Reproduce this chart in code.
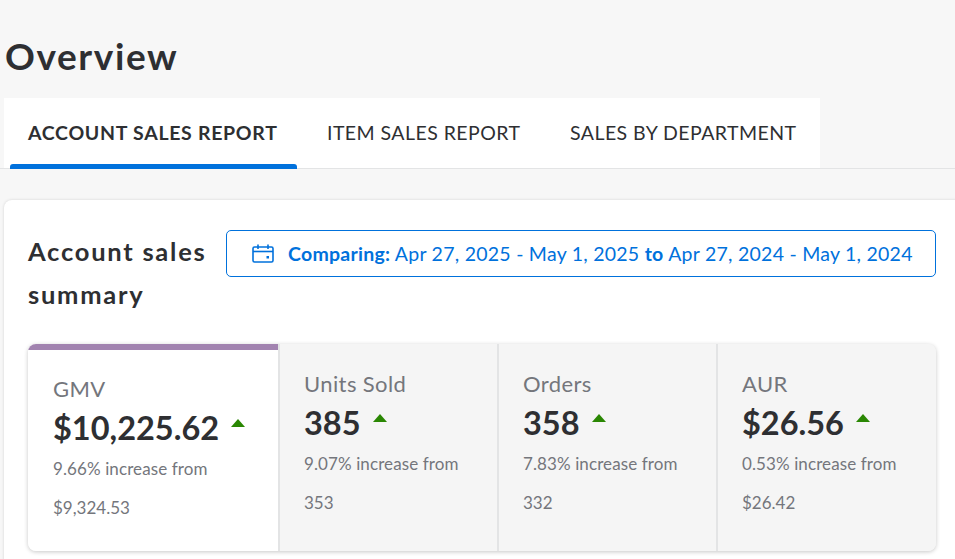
<!DOCTYPE html>
<html>
<head>
<meta charset="utf-8">
<script src="https://cdn.jsdelivr.net/npm/chart.js@4.4.1/dist/chart.umd.min.js"></script>
<style>
  html, body { margin: 0; padding: 0; }
  body {
    width: 955px; height: 559px; overflow: hidden;
    background: #f7f7f7; font-family: Lato, "Open Sans", sans-serif; color: #2e2f32;
    position: relative;
  }
  h1 { position: absolute; left: 5px; top: 33px; margin: 0; font-size: 37px; font-weight: 700; letter-spacing: 1.6px; }
  .tabs { position: absolute; left: 4px; top: 98px; width: 816px; height: 70px; background: #fff; }
  .tabline { position: absolute; left: 0; top: 168px; width: 955px; height: 1px; background: #e3e4e5; }
  .tab { position: absolute; top: 121px; font-size: 19.5px; color: #2e2f32; white-space: nowrap; letter-spacing: 0.45px; }
  .tab.active { font-weight: 700; letter-spacing: 0.7px; }
  .underline { position: absolute; left: 10px; top: 164px; width: 287px; height: 5px; background: #0071dc; border-radius: 3px 3px 0 0; }
  .card { position: absolute; left: 4px; top: 200px; width: 980px; height: 380px; background: #fff; border-radius: 8px;
          box-shadow: 0 0 3px rgba(0,0,0,0.15); }
  .title { position: absolute; left: 28px; top: 230px; width: 205px; font-size: 25.5px; font-weight: 700; line-height: 43px; letter-spacing: 1.75px; }
  .date { position: absolute; left: 226px; top: 230px; width: 708px; height: 45px; border: 1px solid #0071dc; border-radius: 5px;
          color: #0071dc; font-size: 19.5px; box-sizing: content-box; }
  .date span.t { position: absolute; left: 61px; top: 11px; white-space: nowrap; letter-spacing: 0.25px; }
  .date svg { position: absolute; left: 25px; top: 13px; }
  .kpis { position: absolute; left: 28px; top: 344px; width: 908px; height: 207px; border-radius: 8px; overflow: hidden;
          box-shadow: 0 1px 4px rgba(0,0,0,0.22); background: #f5f5f5; }
  .cell { position: absolute; top: 0; height: 207px; background: #f5f5f5; border-left: 2px solid #e3e4e5; box-sizing: border-box; }
  .cell.sel { background: #fff; border-left: none; }
  .cell.sel .bar { position: absolute; left: 0; top: 0; right: 0; height: 6px; background: #a283b0; }
  .lbl { position: absolute; font-size: 22px; color: #74767c; white-space: nowrap; letter-spacing: 0.4px; }
  .val { position: absolute; font-size: 32.5px; font-weight: 700; color: #2e2f32; white-space: nowrap; }
  .val i { display: inline-block; width: 0; height: 0; border-left: 7px solid transparent; border-right: 7px solid transparent;
           border-bottom: 8px solid #2a8703; margin-left: 12px; vertical-align: 13px; }
  .chg { position: absolute; font-size: 17px; color: #74767c; white-space: nowrap; letter-spacing: 0.1px; }
  .prev { position: absolute; font-size: 17px; color: #74767c; white-space: nowrap; }
</style>
</head>
<body>
<h1>Overview</h1>
<div class="tabs"></div>
<div class="tabline"></div>
<div class="underline"></div>
<div id="tabs"></div>
<div class="card"></div>
<div class="title">Account sales summary</div>
<div class="date">
  <svg width="22" height="19" viewBox="0 0 22 19"><rect x="1" y="3" width="20" height="15" rx="1.5" fill="none" stroke="#0071dc" stroke-width="1.6"/><line x1="1" y1="7.5" x2="21" y2="7.5" stroke="#0071dc" stroke-width="1.6"/><line x1="6" y1="0.5" x2="6" y2="5" stroke="#0071dc" stroke-width="1.6"/><line x1="16" y1="0.5" x2="16" y2="5" stroke="#0071dc" stroke-width="1.6"/><rect x="14.5" y="12" width="2.5" height="2.5" fill="#0071dc"/></svg>
  <span class="t"><b>Comparing:</b> Apr 27, 2025 - May 1, 2025 <b>to</b> Apr 27, 2024 - May 1, 2024</span>
</div>
<div class="kpis" id="kpis"></div>
<script>
const tabLabels = ['ACCOUNT SALES REPORT', 'ITEM SALES REPORT', 'SALES BY DEPARTMENT']
const tabX = [28, 327, 570]

const metricNames = ['GMV', 'Units Sold', 'Orders', 'AUR']
const currentValues = ['$10,225.62', '385', '358', '$26.56']
const changePct = ['9.66%', '9.07%', '7.83%', '0.53%']
const previousValues = ['$9,324.53', '353', '332', '$26.42']

const cellLeft = [0, 250, 469, 688]
const cellWidth = [250, 219, 219, 220]

const tabBox = document.querySelector('#tabs')
tabLabels.forEach((t, i) => {
    const el = document.createElement('div')
    el.className = 'tab' + (i == 0 ? ' active' : '')
    el.style.left = tabX[i] + 'px'
    el.innerText = t
    tabBox.appendChild(el)
})

const kpis = document.querySelector('#kpis')
metricNames.forEach((name, i) => {
    const sel = i == 0
    const off = sel ? 5 : 0
    const pad = sel ? 25 : 24
    const cell = document.createElement('div')
    cell.className = 'cell' + (sel ? ' sel' : '')
    cell.style.left = cellLeft[i] + 'px'
    cell.style.width = cellWidth[i] + 'px'
    cell.innerHTML =
        (sel ? '<div class="bar"></div>' : '') +
        '<div class="lbl" style="left:' + pad + 'px;top:' + (26 + off) + 'px">' + name + '</div>' +
        '<div class="val" style="left:' + pad + 'px;top:' + (59 + off) + 'px">' + currentValues[i] + '<i></i></div>' +
        '<div class="chg" style="left:' + pad + 'px;top:' + (109 + off) + 'px">' + changePct[i] + ' increase from</div>' +
        '<div class="prev" style="left:' + pad + 'px;top:' + (148 + off) + 'px">' + previousValues[i] + '</div>'
    kpis.appendChild(cell)
})
</script>
</body>
</html>
